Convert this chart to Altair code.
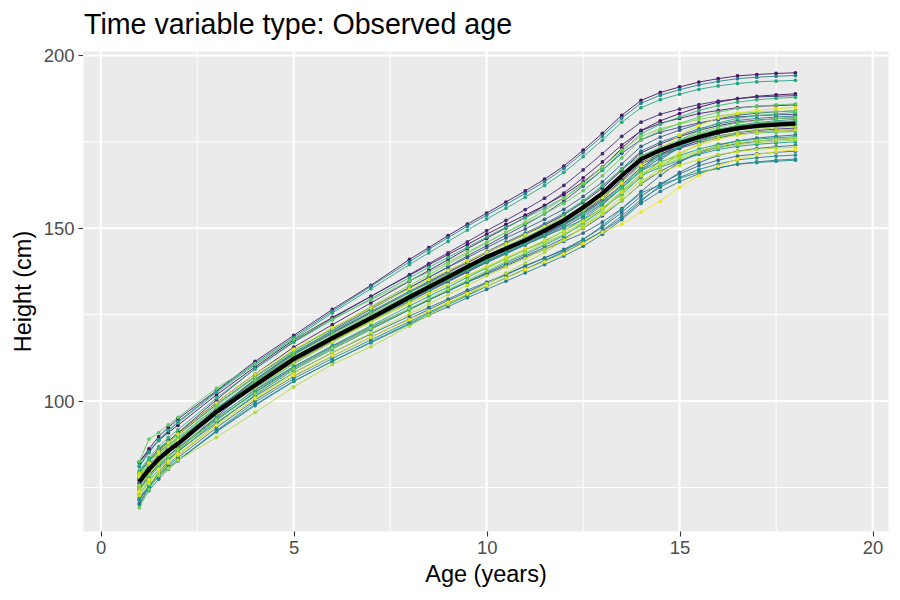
import altair as alt
import pandas as pd

ages = [1, 1.25, 1.5, 1.75, 2, 3, 4, 5, 6, 7, 8, 8.5, 9, 9.5, 10, 10.5, 11, 11.5,
        12, 12.5, 13, 13.5, 14, 14.5, 15, 15.5, 16, 16.5, 17, 17.5, 18]

h01 = [82.3, 85.6, 88.6, 90.9, 93.0, 101.8, 109.9, 117.7, 124.2, 130.3, 136.4, 139.4, 142.4, 145.3, 148.3, 151.1, 153.8, 156.6, 159.7, 163.4, 167.7, 173.1, 178.3, 181.1, 183.2, 185.0, 186.5, 187.5, 188.2, 188.6, 188.9]
h02 = [82.3, 86.2, 89.7, 92.4, 94.8, 103.0, 111.5, 119.0, 126.5, 133.5, 141.0, 144.4, 147.9, 151.2, 154.4, 157.6, 160.8, 164.2, 168.0, 172.6, 177.5, 182.7, 187.0, 189.3, 190.9, 192.3, 193.3, 194.1, 194.5, 194.8, 195.0]
h03 = [79.4, 82.9, 86.1, 88.5, 90.6, 99.6, 107.8, 115.6, 122.1, 128.4, 134.7, 137.8, 140.9, 144.1, 147.1, 150.1, 153.2, 156.5, 160.2, 164.6, 169.2, 174.1, 178.2, 180.4, 181.8, 183.2, 184.1, 184.9, 185.3, 185.5, 185.7]
h04 = [76.3, 80.1, 83.3, 86.0, 88.3, 97.5, 105.9, 113.4, 119.6, 125.6, 131.4, 134.4, 137.2, 140.0, 142.9, 145.6, 148.2, 150.9, 153.9, 157.5, 161.6, 166.8, 171.8, 174.4, 176.5, 178.3, 179.7, 180.7, 181.3, 181.7, 182.0]
h05 = [77.5, 81.7, 85.3, 88.3, 90.8, 100.4, 109.4, 117.2, 123.9, 130.3, 136.6, 139.8, 142.9, 146.1, 149.3, 152.3, 155.4, 158.7, 162.4, 166.9, 171.6, 176.6, 180.7, 183.0, 184.5, 185.8, 186.8, 187.5, 188.0, 188.2, 188.4]
h06 = [77.0, 80.4, 83.4, 85.7, 87.8, 96.3, 104.1, 111.5, 117.6, 123.5, 129.3, 132.1, 134.9, 137.7, 140.5, 143.1, 145.7, 148.4, 151.3, 154.8, 158.9, 164.0, 169.0, 171.5, 173.5, 175.3, 176.7, 177.7, 178.3, 178.7, 179.0]
h07 = [77.2, 80.8, 83.9, 86.4, 88.6, 97.3, 105.4, 112.6, 118.7, 124.5, 130.1, 132.9, 135.6, 138.3, 141.0, 143.5, 146.1, 148.6, 151.3, 154.3, 158.0, 162.5, 167.6, 171.3, 174.2, 176.6, 178.3, 179.5, 180.2, 180.7, 181.0]
h08 = [77.8, 81.0, 83.8, 85.9, 87.9, 96.2, 103.9, 111.2, 117.3, 123.2, 128.9, 131.7, 134.5, 137.3, 140.1, 142.8, 145.3, 148.0, 150.9, 154.4, 158.5, 163.6, 168.5, 171.1, 173.1, 174.8, 176.2, 177.2, 177.8, 178.2, 178.5]
h09 = [76.2, 80.1, 83.4, 86.2, 88.5, 97.7, 106.3, 113.9, 120.4, 126.6, 132.7, 135.8, 138.8, 142.0, 145.0, 148.0, 151.0, 154.2, 157.9, 162.2, 166.8, 171.7, 175.6, 177.8, 179.2, 180.5, 181.5, 182.2, 182.6, 182.8, 183.0]
h10 = [70.3, 75.2, 79.3, 82.7, 85.6, 95.5, 104.8, 112.0, 118.1, 123.8, 129.4, 132.1, 134.8, 137.5, 140.1, 142.6, 145.2, 147.7, 150.4, 153.4, 157.1, 161.6, 166.6, 170.3, 173.2, 175.6, 177.3, 178.5, 179.2, 179.7, 180.0]
h11 = [75.1, 78.6, 81.6, 84.1, 86.2, 94.7, 102.5, 109.5, 115.5, 121.0, 126.5, 129.2, 131.9, 134.5, 137.0, 139.5, 142.0, 144.4, 147.1, 150.0, 153.6, 158.0, 162.8, 166.5, 169.3, 171.7, 173.4, 174.5, 175.2, 175.7, 176.0]
h12 = [79.2, 82.6, 85.7, 88.1, 90.2, 99.0, 107.1, 114.6, 120.9, 127.0, 132.9, 135.8, 138.7, 141.5, 144.4, 147.2, 149.8, 152.6, 155.5, 159.2, 163.4, 168.6, 173.7, 176.4, 178.4, 180.2, 181.7, 182.7, 183.3, 183.7, 184.0]
h13 = [74.7, 78.4, 81.6, 84.2, 86.5, 95.2, 103.2, 110.0, 115.9, 121.4, 126.7, 129.3, 131.8, 134.4, 136.7, 139.1, 141.6, 143.9, 146.2, 148.6, 151.8, 155.7, 160.6, 165.3, 169.1, 172.0, 174.0, 175.3, 176.1, 176.6, 177.0]
h14 = [71.5, 75.3, 78.6, 81.3, 83.6, 92.3, 100.3, 107.2, 113.0, 118.5, 123.8, 126.5, 129.1, 131.6, 134.1, 136.5, 139.0, 141.4, 143.9, 146.8, 150.3, 154.6, 159.3, 162.9, 165.7, 168.1, 169.7, 170.9, 171.5, 172.0, 172.3]
h15 = [74.4, 77.9, 80.9, 83.3, 85.4, 93.8, 101.4, 108.2, 114.0, 119.4, 124.6, 127.1, 129.5, 132.1, 134.4, 136.7, 139.2, 141.4, 143.7, 146.1, 149.1, 152.9, 157.8, 162.5, 166.2, 169.0, 171.1, 172.3, 173.1, 173.6, 174.0]
h16 = [75.5, 79.6, 83.0, 85.8, 88.3, 97.6, 106.2, 113.7, 119.9, 125.9, 131.8, 134.7, 137.6, 140.4, 143.2, 146.0, 148.6, 151.3, 154.3, 157.9, 162.1, 167.2, 172.3, 174.9, 176.9, 178.8, 180.2, 181.2, 181.8, 182.2, 182.5]
h17 = [71.5, 75.1, 78.1, 80.7, 82.9, 91.3, 99.0, 105.8, 111.5, 116.9, 122.2, 124.8, 127.3, 129.9, 132.3, 134.7, 137.1, 139.5, 142.0, 144.8, 148.3, 152.5, 157.2, 160.7, 163.5, 165.8, 167.4, 168.6, 169.2, 169.7, 170.0]
h18 = [81.0, 85.1, 88.7, 91.5, 94.0, 102.8, 111.0, 118.5, 126.0, 133.2, 140.3, 143.9, 147.3, 150.6, 153.8, 156.9, 160.1, 163.5, 167.3, 171.9, 176.7, 181.9, 186.2, 188.5, 190.1, 191.5, 192.5, 193.3, 193.7, 194.0, 194.2]
h19 = [70.0, 74.1, 77.4, 80.3, 82.7, 91.5, 99.7, 106.5, 112.3, 117.7, 123.0, 125.7, 128.2, 130.8, 133.3, 135.6, 138.1, 140.5, 143.0, 145.8, 149.3, 153.6, 158.3, 161.9, 164.7, 167.0, 168.6, 169.8, 170.4, 170.9, 171.2]
h20 = [72.1, 75.5, 78.4, 80.8, 82.8, 91.1, 98.7, 105.7, 111.5, 117.1, 122.5, 125.3, 127.9, 130.5, 133.2, 135.7, 138.2, 140.7, 143.4, 146.8, 150.7, 155.5, 160.2, 162.6, 164.5, 166.2, 167.5, 168.5, 169.0, 169.4, 169.7]
h21 = [71.3, 75.4, 78.9, 81.8, 84.2, 93.4, 101.8, 109.0, 115.0, 120.7, 126.4, 129.2, 131.9, 134.6, 137.3, 140.0, 142.5, 145.1, 147.9, 151.4, 155.4, 160.3, 165.2, 167.7, 169.6, 171.4, 172.8, 173.7, 174.3, 174.7, 175.0]
h22 = [78.6, 82.0, 85.1, 87.4, 89.5, 98.0, 105.8, 112.8, 118.9, 124.5, 130.0, 132.6, 135.2, 137.8, 140.2, 142.7, 145.3, 147.6, 150.0, 152.5, 155.8, 159.8, 164.8, 169.7, 173.5, 176.4, 178.5, 179.8, 180.6, 181.1, 181.5]
h23 = [73.0, 76.9, 80.2, 83.0, 85.3, 94.4, 102.7, 109.9, 116.0, 121.8, 127.5, 130.3, 133.0, 135.8, 138.5, 141.2, 143.7, 146.3, 149.2, 152.7, 156.7, 161.7, 166.6, 169.2, 171.1, 172.9, 174.3, 175.2, 175.8, 176.2, 176.5]
h24 = [81.4, 85.3, 88.7, 91.4, 93.7, 102.5, 110.5, 118.0, 125.5, 132.5, 139.5, 142.9, 146.2, 149.5, 152.7, 155.8, 159.0, 162.4, 166.2, 170.7, 175.5, 180.7, 184.9, 187.2, 188.8, 190.2, 191.2, 191.9, 192.4, 192.6, 192.8]
h25 = [78.0, 81.4, 84.4, 86.7, 88.8, 97.3, 105.1, 112.3, 118.4, 124.1, 129.7, 132.5, 135.3, 138.0, 140.6, 143.1, 145.7, 148.2, 150.9, 153.9, 157.6, 162.1, 167.1, 170.8, 173.7, 176.1, 177.8, 179.0, 179.7, 180.2, 180.5]
h26 = [79.8, 83.6, 86.8, 89.4, 91.7, 100.9, 109.3, 117.0, 123.5, 129.6, 135.7, 138.7, 141.6, 144.5, 147.5, 150.3, 153.0, 155.8, 158.8, 162.6, 166.8, 172.2, 177.4, 180.1, 182.2, 184.1, 185.5, 186.5, 187.2, 187.6, 187.9]
h27 = [79.5, 82.9, 86.0, 88.3, 90.5, 99.1, 107.0, 114.1, 120.2, 125.9, 131.4, 134.1, 136.7, 139.4, 141.8, 144.3, 146.9, 149.3, 151.7, 154.3, 157.5, 161.6, 166.7, 171.6, 175.4, 178.3, 180.5, 181.8, 182.6, 183.1, 183.5]
h28 = [74.1, 77.9, 81.1, 83.8, 86.1, 95.1, 103.4, 110.8, 117.1, 123.1, 129.1, 132.1, 135.1, 138.1, 141.1, 144.0, 146.9, 150.1, 153.7, 157.9, 162.4, 167.1, 170.9, 173.0, 174.4, 175.6, 176.5, 177.2, 177.6, 177.8, 178.0]
h29 = [78.9, 82.1, 84.9, 87.1, 89.1, 97.5, 105.3, 112.7, 118.9, 124.9, 130.7, 133.6, 136.4, 139.2, 142.1, 144.8, 147.4, 150.1, 153.0, 156.6, 160.7, 165.8, 170.9, 173.5, 175.5, 177.3, 178.7, 179.7, 180.3, 180.7, 181.0]
h30 = [82.5, 89.0, 90.9, 93.1, 95.3, 103.7, 110.7, 117.9, 123.7, 129.3, 134.8, 137.3, 140.2, 143.1, 146.0, 148.8, 151.4, 154.2, 157.2, 160.9, 165.2, 170.4, 175.6, 178.3, 180.3, 182.2, 183.6, 184.7, 185.3, 185.7, 186.0]
h31 = [69.1, 74.4, 78.8, 82.5, 85.6, 96.2, 106.0, 113.3, 119.4, 125.2, 130.8, 133.7, 136.4, 139.1, 141.8, 144.3, 146.9, 149.4, 152.2, 155.2, 158.9, 163.5, 168.5, 172.2, 175.2, 177.6, 179.3, 180.5, 181.2, 181.7, 182.0]
h32 = [77.7, 81.3, 84.6, 87.2, 89.4, 98.5, 106.9, 114.5, 121.0, 127.3, 133.5, 136.5, 139.6, 142.7, 145.8, 148.8, 151.8, 155.1, 158.7, 163.1, 167.7, 172.6, 176.6, 178.8, 180.2, 181.5, 182.5, 183.2, 183.6, 183.8, 184.0]
h33 = [75.6, 78.9, 81.8, 84.0, 86.1, 94.4, 102.1, 109.3, 115.3, 121.1, 126.7, 129.6, 132.3, 135.0, 137.7, 140.4, 142.9, 145.5, 148.3, 151.8, 155.8, 160.8, 165.7, 168.2, 170.1, 171.9, 173.3, 174.2, 174.8, 175.2, 175.5]
h34 = [74.8, 78.7, 82.1, 84.9, 87.3, 96.4, 104.6, 111.6, 117.6, 123.1, 128.5, 131.1, 133.7, 136.3, 138.7, 141.1, 143.7, 145.9, 148.3, 150.8, 154.0, 158.0, 162.9, 167.7, 171.5, 174.4, 176.5, 177.8, 178.6, 179.1, 179.5]
h35 = [73.5, 76.0, 78.5, 80.5, 82.9, 89.5, 96.7, 104.1, 110.6, 115.7, 121.7, 124.9, 128.0, 131.0, 134.0, 137.0, 140.0, 143.0, 146.5, 150.5, 155.0, 160.5, 165.8, 168.7, 170.6, 172.4, 173.8, 174.7, 175.3, 175.7, 176.0]
h36 = [72.7, 76.4, 79.5, 82.1, 84.3, 92.9, 100.9, 108.1, 114.0, 119.7, 125.3, 128.1, 130.8, 133.5, 136.2, 138.8, 141.3, 143.9, 146.7, 150.1, 154.1, 159.0, 163.8, 166.3, 168.2, 169.9, 171.3, 172.2, 172.8, 173.2, 173.5]
h37 = [79.1, 82.1, 84.8, 86.7, 88.6, 96.6, 104.0, 111.1, 117.1, 122.8, 128.3, 131.1, 133.7, 136.4, 139.0, 141.5, 144.0, 146.5, 149.2, 152.1, 155.8, 160.3, 165.2, 168.9, 171.8, 174.1, 175.8, 177.0, 177.7, 178.2, 178.5]
h38 = [78.1, 82.0, 85.3, 88.0, 90.4, 99.5, 107.8, 115.0, 121.2, 126.9, 132.5, 135.2, 137.8, 140.5, 143.0, 145.5, 148.1, 150.5, 153.0, 155.6, 158.9, 163.0, 168.1, 173.0, 176.9, 179.8, 181.9, 183.3, 184.1, 184.6, 185.0]
h39 = [73.9, 77.3, 80.3, 82.7, 84.8, 93.1, 100.7, 107.4, 113.1, 118.5, 123.6, 126.1, 128.6, 131.1, 133.3, 135.6, 138.1, 140.3, 142.6, 145.6, 148.9, 151.2, 154.7, 157.8, 161.9, 165.3, 168.0, 170.0, 171.3, 172.2, 172.7]

mean_height = [76.7, 80.2, 83.2, 85.6, 87.6, 96.9, 104.6, 112.2, 118.2, 124.0, 130.1, 133.0, 135.9, 138.8, 141.7, 144.1, 146.5, 149.3, 152.3, 156.0, 160.1, 165.2, 170.0, 172.6, 174.6, 176.4, 177.9, 178.9, 179.6, 180.0, 180.3]

series = [h01, h02, h03, h04, h05, h06, h07, h08, h09, h10, h11, h12, h13,
          h14, h15, h16, h17, h18, h19, h20, h21, h22, h23, h24, h25, h26,
          h27, h28, h29, h30, h31, h32, h33, h34, h35, h36, h37, h38, h39]

x_major = [0, 5, 10, 15, 20]
x_minor = [2.5, 7.5, 12.5, 17.5]
y_major = [100, 150, 200]
y_minor = [75, 125, 175]

rows = []
for i, hs in enumerate(series, start=1):
    for a, h in zip(ages, hs):
        rows.append({"id": i, "age": a, "height": h})
df = pd.DataFrame(rows)
mean_df = pd.DataFrame({"age": ages, "height": mean_height})

FONT = "Liberation Sans"
xscale = alt.Scale(domain=[-0.46, 20.4], nice=False, zero=False)
yscale = alt.Scale(domain=[62.4, 201.3], nice=False, zero=False)

xaxis = alt.Axis(values=x_major, title="Age (years)", grid=False, domain=False,
                 tickColor="#333333", tickWidth=1.1, tickSize=5,
                 labelFontSize=18.5, labelColor="#4D4D4D", labelFont=FONT,
                 labelPadding=2, titleFontSize=23.5, titleFont=FONT,
                 titleColor="black", titleFontWeight="normal", titlePadding=6,
                 format="d")
yaxis = alt.Axis(values=y_major, title="Height (cm)", grid=False, domain=False,
                 tickColor="#333333", tickWidth=1.1, tickSize=5,
                 labelFontSize=18.5, labelColor="#4D4D4D", labelFont=FONT,
                 labelPadding=4, titleFontSize=23.5, titleFont=FONT,
                 titleColor="black", titleFontWeight="normal", titlePadding=8,
                 format="d")

vminor = alt.Chart(pd.DataFrame({"age": x_minor})).mark_rule(
    color="white", strokeWidth=1.0).encode(x=alt.X("age:Q", scale=xscale, axis=xaxis))
hminor = alt.Chart(pd.DataFrame({"height": y_minor})).mark_rule(
    color="white", strokeWidth=1.0).encode(y=alt.Y("height:Q", scale=yscale, axis=yaxis))
vmajor = alt.Chart(pd.DataFrame({"age": x_major})).mark_rule(
    color="white", strokeWidth=2.1).encode(x=alt.X("age:Q", scale=xscale))
hmajor = alt.Chart(pd.DataFrame({"height": y_major})).mark_rule(
    color="white", strokeWidth=2.1).encode(y=alt.Y("height:Q", scale=yscale))

color = alt.Color("id:O", scale=alt.Scale(scheme="viridis"), legend=None)

lines = alt.Chart(df).mark_line(strokeWidth=0.9, clip=True).encode(
    x=alt.X("age:Q", scale=xscale),
    y=alt.Y("height:Q", scale=yscale),
    color=color,
    detail="id:O",
)
points = alt.Chart(df).mark_circle(size=14, opacity=1, clip=True).encode(
    x=alt.X("age:Q", scale=xscale),
    y=alt.Y("height:Q", scale=yscale),
    color=color,
)
mean_line = alt.Chart(mean_df).mark_line(color="black", strokeWidth=4.2).encode(
    x=alt.X("age:Q", scale=xscale),
    y=alt.Y("height:Q", scale=yscale),
)

chart = alt.layer(vminor, hminor, vmajor, hmajor, lines, points, mean_line).properties(
    width=805,
    height=480,
    autosize=alt.AutoSizeParams(type="none"),
    padding={"left": 75, "top": 43, "right": 4, "bottom": 65},
    title=alt.TitleParams(text="Time variable type: Observed age", anchor="start",
                          frame="group", fontSize=28.6, font=FONT,
                          fontWeight="normal", color="black",
                          baseline="alphabetic", offset=-16, dx=1),
).configure_view(fill="#EBEBEB", stroke="transparent")

chart.save("out.html", embed_options={"renderer": "svg", "actions": False})
